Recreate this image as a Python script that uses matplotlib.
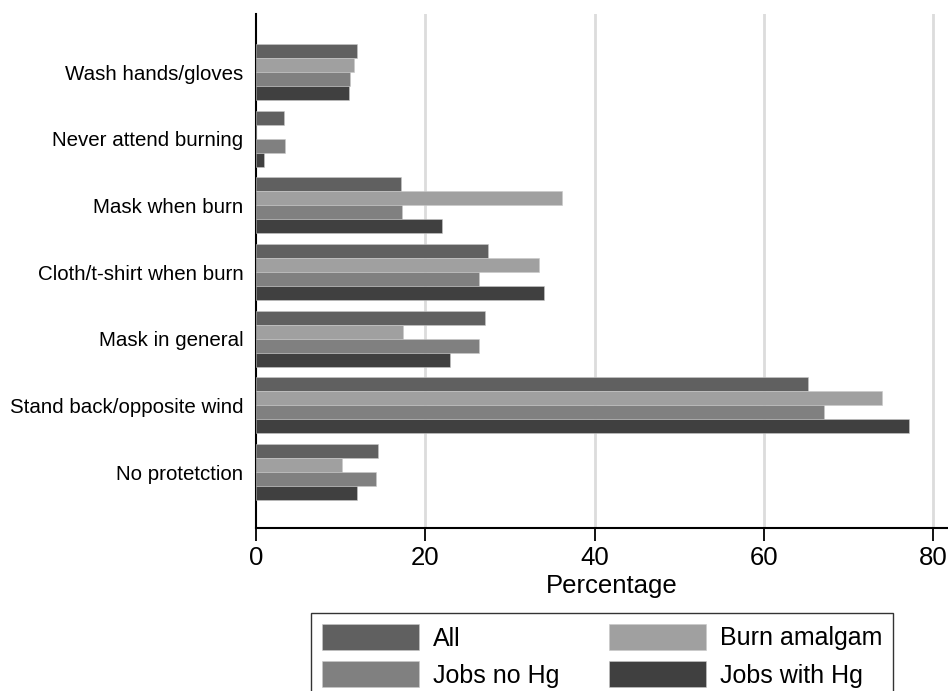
import matplotlib.pyplot as plt
import numpy as np

# categories top to bottom
categories = ['Wash hands/gloves', 'Never attend burning', 'Mask when burn',
              'Cloth/t-shirt when burn', 'Mask in general',
              'Stand back/opposite wind', 'No protetction']

# percentages per group
all_pct      = [11.9, 3.3, 17.1, 27.4, 27.0, 65.2, 14.4]
burn_pct     = [11.6, 0.0, 36.2, 33.4, 17.4, 73.9, 10.2]
jobs_no_hg   = [11.1, 3.4, 17.2, 26.4, 26.4, 67.1, 14.2]
jobs_with_hg = [11.0, 0.9, 22.0, 34.0, 22.9, 77.1, 11.9]

series = [('All', all_pct, '#606060'),
          ('Burn amalgam', burn_pct, '#a0a0a0'),
          ('Jobs no Hg', jobs_no_hg, '#808080'),
          ('Jobs with Hg', jobs_with_hg, '#404040')]

plt.rcParams['font.family'] = ['Liberation Sans', 'DejaVu Sans']

fig = plt.figure(figsize=(9.48, 6.91), dpi=100)
# axes run off the right edge, like the cropped original
ax = fig.add_axes([256/948, 1 - 528/691, 711/948, (528 - 14)/691])

y = np.arange(len(categories))
h = 0.21
bars = {}
for i, (name, vals, col) in enumerate(series):
    bars[name] = ax.barh(y - 1.5*h + i*h, vals, height=h, color=col,
                         edgecolor='#c8c8c8', linewidth=0.4, label=name, zorder=3)

ax.set_xlim(0, 84)
ax.set_ylim(6.84, -0.87)
ax.set_yticks(y)
ax.set_yticklabels(categories, fontsize=14.8)
ax.tick_params(axis='y', length=0, pad=9)
ax.set_xticks([0, 20, 40, 60, 80])
ax.tick_params(axis='x', labelsize=18.5, length=9, width=1.3, direction='out', pad=4)
ax.set_xlabel('Percentage', fontsize=18.5, labelpad=3)

ax.grid(axis='x', color='#dcdcdc', linewidth=2, zorder=0)
ax.spines['top'].set_visible(False)
ax.spines['right'].set_visible(False)
ax.spines['left'].set_linewidth(1.5)
ax.spines['bottom'].set_linewidth(1.5)
for t in ax.get_xgridlines()[:1]:
    t.set_visible(False)

handles = [bars['All'], bars['Jobs no Hg'], bars['Burn amalgam'], bars['Jobs with Hg']]
leg = fig.legend(handles=handles, labels=['All', 'Jobs no Hg', 'Burn amalgam', 'Jobs with Hg'],
                 ncol=2, loc='upper left', bbox_to_anchor=(311/948, 1 - 613/691),
                 fontsize=18, frameon=True, fancybox=False, edgecolor='black',
                 handlelength=3.88, handleheight=1.2, handletextpad=0.56,
                 labelspacing=0.43, columnspacing=1.96, borderpad=0.45,
                 borderaxespad=0)
leg.get_frame().set_linewidth(1.0)

fig.savefig('out.png', dpi=100)
